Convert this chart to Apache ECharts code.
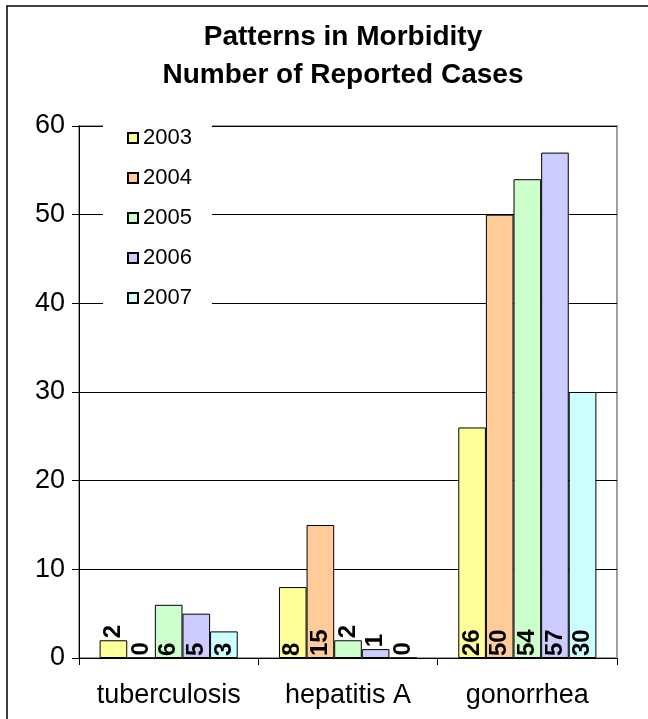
<!DOCTYPE html>
<html>
<head>
<meta charset="utf-8">
<script src="https://cdn.jsdelivr.net/npm/echarts@6/dist/echarts.min.js"></script>
<style>
  html, body { margin: 0; padding: 0; background: #fff; }
  #main { width: 648px; height: 719px; }
</style>
</head>
<body>
<div id="main"></div>
<script>
  var diseases = ['tuberculosis', 'hepatitis A', 'gonorrhea'];
  var years = ['2003', '2004', '2005', '2006', '2007'];
  var cases2003 = [2, 8, 26];
  var cases2004 = [0, 15, 50];
  var cases2005 = [6, 2, 54];
  var cases2006 = [5, 1, 57];
  var cases2007 = [3, 0, 30];
  var colors = ['#FFFF99', '#FFCC99', '#CCFFCC', '#CCCCFF', '#CCFFFF'];

  var allCases = [cases2003, cases2004, cases2005, cases2006, cases2007];
  var font = '"Liberation Sans", Arial, sans-serif';

  // short bars get their label above the bar, like the original
  function toData(arr) {
    return arr.map(function (v) {
      if (v <= 2) {
        return { value: v, label: { position: 'top', distance: 2 } };
      }
      return v;
    });
  }

  var series = years.map(function (y, i) {
    return {
      name: y,
      type: 'bar',
      data: toData(allCases[i]),
      barGap: '0%',
      barCategoryGap: '23%',
      itemStyle: { color: colors[i], borderColor: '#000', borderWidth: 1 },
      label: {
        show: true,
        position: 'insideBottom',
        rotate: 90,
        align: 'left',
        verticalAlign: 'middle',
        distance: 2,
        color: '#000',
        fontWeight: 'bold',
        fontSize: 24,
        fontFamily: font
      }
    };
  });

  var chart = echarts.init(document.getElementById('main'));
  chart.setOption({
    animation: false,
    backgroundColor: '#fff',
    textStyle: { fontFamily: font },
    title: {
      text: 'Patterns in Morbidity\nNumber of Reported Cases',
      left: 338,
      textAlign: 'center',
      top: 13,
      textStyle: { fontSize: 28, fontWeight: 'bold', color: '#000', lineHeight: 38, fontFamily: font }
    },
    graphic: [{
      type: 'rect',
      shape: { x: 7, y: 6, width: 700, height: 800 },
      style: { fill: 'none', stroke: '#000', lineWidth: 1.5 },
      silent: true
    }],
    legend: {
      orient: 'vertical',
      left: 103,
      top: 119,
      padding: [8, 20, 8, 24],
      itemGap: 18,
      itemWidth: 10,
      itemHeight: 10,
      backgroundColor: '#fff',
      icon: 'rect',
      textStyle: { fontSize: 22, color: '#000', fontFamily: font },
      data: years
    },
    grid: {
      left: 79, right: 31, top: 126, bottom: 61,
      show: true,
      borderColor: '#a0a0a0',
      borderWidth: 2
    },
    xAxis: {
      type: 'category',
      data: diseases,
      axisLine: { lineStyle: { color: '#000', width: 1 } },
      axisTick: { show: true, length: 7, lineStyle: { color: '#000' } },
      axisLabel: { interval: 0, hideOverlap: false, fontSize: 27, color: '#000', margin: 24, fontFamily: font }
    },
    yAxis: {
      type: 'value',
      min: 0,
      max: 60,
      interval: 10,
      axisLine: { show: true, lineStyle: { color: '#000', width: 1 } },
      axisTick: { show: true, length: 7, lineStyle: { color: '#000' } },
      axisLabel: { fontSize: 27, color: '#000', margin: 14, fontFamily: font },
      splitLine: { lineStyle: { color: '#000', width: 1 } }
    },
    series: series
  });
</script>
</body>
</html>
